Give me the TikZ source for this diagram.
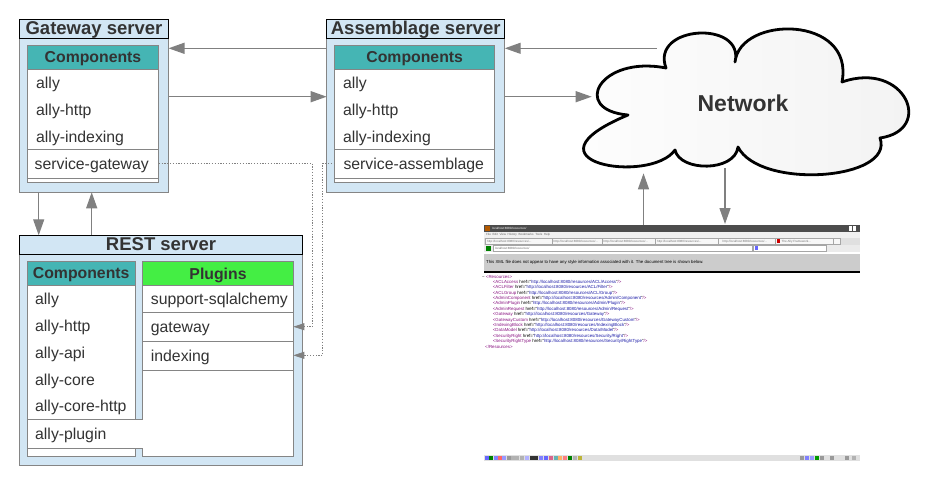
\documentclass[tikz,border=0pt]{standalone}
\usepackage{fontspec}
\setmainfont{Liberation Sans}
\usetikzlibrary{arrows.meta}
\definecolor{lb}{HTML}{D2E6F4}
\definecolor{tealh}{HTML}{45B5B4}
\definecolor{greenh}{HTML}{44EE44}
\definecolor{bord}{HTML}{858585}
\definecolor{txt}{HTML}{333333}
\definecolor{conn}{HTML}{808080}
\definecolor{xmltag}{HTML}{881280}
\definecolor{xmlval}{HTML}{1A1AA6}
\newcommand\fsz[1]{\fontsize{#1}{#1}\selectfont}
\begin{document}
\begin{tikzpicture}[x=1pt,y=-1pt,
  box/.style={draw=bord, line width=1pt, anchor=north west, inner sep=0, outer sep=0},
  outerbox/.style={box, fill=lb},
  titlebox/.style={draw=black, line width=0.9pt, fill=lb, anchor=north west, inner sep=0, outer sep=0},
  hdr/.style={box, fill=tealh},
  plug/.style={box, fill=greenh},
  listbox/.style={box, fill=white},
  ttl/.style={anchor=base, font=\bfseries\fsz{18.5}, text=txt, inner sep=0},
  hdrtxt/.style={anchor=base, font=\bfseries\fsz{15.8}, text=txt, inner sep=0},
  itm/.style={anchor=base west, font=\fsz{15.8}, text=txt, inner sep=0},
  sep/.style={draw=bord, line width=0.9pt},
  bigarrow/.style={draw=conn, line width=1.3pt, -{Triangle[length=16pt,width=11pt]}},
  dotarrow/.style={draw=conn, line width=0.8pt, dash pattern=on 1.2pt off 1.6pt, -{Triangle[length=11pt,width=7pt]}},
  xmlt/.style={anchor=west, font=\fsz{4.4}, inner sep=0},
  tiny/.style={anchor=west, font=\fsz{3}, inner sep=0},
]
\useasboundingbox (0,0) rectangle (931,480);

% ---------- Gateway server ----------
\node[outerbox, minimum width=149, minimum height=173] (gw) at (19.5,19.3) {};
\node[titlebox, minimum width=149, minimum height=19.4] (gwt) at (19.5,19.3) {};
\node[ttl] (gwtl) at (94,34.7) {Gateway server};
\node[hdr, minimum width=131.4, minimum height=24] (gwh) at (27.3,45.3) {};
\node[hdrtxt] (gwht) at (93,62.7) {Components};
\node[listbox, minimum width=131.4, minimum height=113] (gwl) at (27.3,69.3) {};
\draw[sep] (27.3,149.7) -- (158.7,149.7);
\draw[sep] (27.3,178.7) -- (158.7,178.7);
\node[itm] (g1) at (36,88.5) {ally};
\node[itm] (g2) at (36,115.8) {ally-http};
\node[itm] (g3) at (36,142.5) {ally-indexing};
\node[itm] (g4) at (34.5,169.2) {service-gateway};

% ---------- Assemblage server ----------
\node[outerbox, minimum width=178, minimum height=173] (as) at (326.7,19.3) {};
\node[titlebox, minimum width=178, minimum height=19.4] (ast) at (326.7,19.3) {};
\node[ttl] (astl) at (415.7,34.7) {Assemblage server};
\node[hdr, minimum width=160, minimum height=24] (ash) at (334.7,45.3) {};
\node[hdrtxt] (asht) at (414.7,62.7) {Components};
\node[listbox, minimum width=160, minimum height=113] (asl) at (334.7,69.3) {};
\draw[sep] (334.7,149.7) -- (494.7,149.7);
\draw[sep] (334.7,178.7) -- (494.7,178.7);
\node[itm] (a1) at (342.8,88.5) {ally};
\node[itm] (a2) at (342.8,115.8) {ally-http};
\node[itm] (a3) at (342.8,142.5) {ally-indexing};
\node[itm] (a4) at (343.3,169.2) {service-assemblage};

% ---------- REST server ----------
\node[outerbox, minimum width=283.4, minimum height=230.4] (rs) at (19.3,235.3) {};
\node[titlebox, minimum width=283.4, minimum height=19] (rst) at (19.3,235.3) {};
\node[ttl] (rstl) at (161,250.7) {REST server};
\node[hdr, minimum width=107.7, minimum height=24.3] (rch) at (27.3,261) {};
\node[hdrtxt] (rcht) at (81.2,278.7) {Components};
\node[listbox, minimum width=107.7, minimum height=171.4] (rcl) at (27.3,285.3) {};
\node[plug, minimum width=150.6, minimum height=24.3] (rph) at (142.7,261) {};
\node[hdrtxt] (rpht) at (218,279.3) {Plugins};
\node[listbox, minimum width=150.6, minimum height=171.4] (rpl) at (142.7,285.3) {};
\draw[sep] (142.7,312.3) -- (293.3,312.3);
\draw[sep] (142.7,341) -- (293.3,341);
\draw[sep] (142.7,370) -- (293.3,370);
\fill[white] (27.8,419.3) rectangle (143.3,448.3);
\draw[sep] (27.3,419.3) -- (142.7,419.3);
\draw[sep] (27.3,448.3) -- (142.7,448.3);
\node[itm] (r1) at (35,304.8) {ally};
\node[itm] (r2) at (35,331.8) {ally-http};
\node[itm] (r3) at (35,358.5) {ally-api};
\node[itm] (r4) at (35,385.1) {ally-core};
\node[itm] (r5) at (35,411.8) {ally-core-http};
\node[itm] (r6) at (35,439.1) {ally-plugin};
\node[itm] (p1) at (150.7,304.8) {support-sqlalchemy};
\node[itm] (p2) at (150.7,332.5) {gateway};
\node[itm] (p3) at (150.7,361.1) {indexing};

% ---------- Network cloud ----------
\coordinate (n1) at (666,68);
\coordinate (n2) at (735,62);
\coordinate (n3) at (842,82);
\coordinate (n4) at (880,138);
\coordinate (n5) at (738,147);
\coordinate (n6) at (675,150);
\coordinate (n7) at (628,115);
\draw[line width=2.8pt, line join=round, left color=white, right color=black!5]
  (n1) .. controls (650,25) and (745,20) .. (n2)
       .. controls (740,15) and (855,15) .. (n3)
       .. controls (905,60) and (935,130) .. (n4)
       .. controls (895,180) and (760,190) .. (n5)
       .. controls (735,172) and (680,172) .. (n6)
       .. controls (650,185) and (515,162) .. (n7)
       .. controls (570,110) and (600,55) .. cycle;
\node[anchor=base, font=\bfseries\fsz{23}, text=txt, inner sep=0] (net) at (743,111) {Network};
\coordinate (cltop) at (656.7,48.3);
\coordinate (clleft) at (591.7,96.7);
\coordinate (clbl) at (643.5,173.3);
\coordinate (clbr) at (725,168.3);

% ---------- Browser screenshot ----------
\node[anchor=north west, minimum width=376, minimum height=236, inner sep=0, outer sep=0] (shot) at (484,225) {};
\fill[black!70] (484,225) rectangle (860,232);
\fill[orange!70!black] (485,226) rectangle (490,231);
\node[tiny, text=white] (st1) at (492,228.5) {localhost:8080/resources/};
\fill[white] (849,226.3) rectangle (852,230.7);
\fill[white] (853,226.3) rectangle (856,230.7);
\fill[black!6] (484,232) rectangle (860,237.5);
\node[tiny, text=black!60] (st2) at (486,234.8) {File \ Edit \ View \ History \ Bookmarks \ Tools \ Help};
\fill[black!12] (484,237.5) rectangle (860,244.5);
\foreach \a/\b in {485/551.7, 551.7/601.7, 601.7/655, 655/718, 718/775, 775/833, 833/840}
  \draw[black!35, line width=0.3pt, fill=black!3] (\a,238.3) rectangle (\b,244.5);
\foreach \a in {487, 553.5, 603.5, 657, 722.5}
  \node[tiny, text=black!55] at (\a,241.3) {http://localhost:8080/resources/...};
\fill[red!80!black] (776.5,239.2) rectangle (780,243);
\node[tiny, text=black!55] (st3) at (781.5,241.3) {The Ally Framework...};
\fill[black!8] (484,244.5) rectangle (860,251.5);
\fill[green!50!black] (485.5,245.5) rectangle (491,250.5);
\draw[black!35, line width=0.3pt, fill=white] (493,245.3) rectangle (752,250.7);
\node[tiny, text=black!60] (st4) at (495,248) {localhost:8080/resources/};
\draw[black!35, line width=0.3pt, fill=white] (753,245.3) rectangle (826,250.7);
\fill[blue!60] (755,246) rectangle (758,250);
\fill[black!20] (484,253.7) rectangle (860,271);
\fill[black] (484,271) rectangle (860,272.6);
\node[xmlt, font=\fsz{4.3}] (msg) at (486,262.5) {This XML file does not appear to have any style information associated with it. The document tree is shown below.};
\node[xmlt] (x0) at (482,276.7) {− \textcolor{xmltag}{<Resources>}};
\node[xmlt] (x1) at (492.7,282.1) {\textcolor{xmltag}{<ACLAccess} href="\textcolor{xmlval}{http://localhost:8080/resources/ACL/Access}"\textcolor{xmltag}{/>}};
\node[xmlt] (x2) at (492.7,287.5) {\textcolor{xmltag}{<ACLFilter} href="\textcolor{xmlval}{http://localhost:8080/resources/ACL/Filter}"\textcolor{xmltag}{/>}};
\node[xmlt] (x3) at (492.7,292.9) {\textcolor{xmltag}{<ACLGroup} href="\textcolor{xmlval}{http://localhost:8080/resources/ACL/Group}"\textcolor{xmltag}{/>}};
\node[xmlt] (x4) at (492.7,298.3) {\textcolor{xmltag}{<AdminComponent} href="\textcolor{xmlval}{http://localhost:8080/resources/Admin/Component}"\textcolor{xmltag}{/>}};
\node[xmlt] (x5) at (492.7,303.7) {\textcolor{xmltag}{<AdminPlugin} href="\textcolor{xmlval}{http://localhost:8080/resources/Admin/Plugin}"\textcolor{xmltag}{/>}};
\node[xmlt] (x6) at (492.7,309.1) {\textcolor{xmltag}{<AdminRequest} href="\textcolor{xmlval}{http://localhost:8080/resources/Admin/Request}"\textcolor{xmltag}{/>}};
\node[xmlt] (x7) at (492.7,314.5) {\textcolor{xmltag}{<Gateway} href="\textcolor{xmlval}{http://localhost:8080/resources/Gateway}"\textcolor{xmltag}{/>}};
\node[xmlt] (x8) at (492.7,319.9) {\textcolor{xmltag}{<GatewayCustom} href="\textcolor{xmlval}{http://localhost:8080/resources/GatewayCustom}"\textcolor{xmltag}{/>}};
\node[xmlt] (x9) at (492.7,325.3) {\textcolor{xmltag}{<IndexingBlock} href="\textcolor{xmlval}{http://localhost:8080/resources/IndexingBlock}"\textcolor{xmltag}{/>}};
\node[xmlt] (x10) at (492.7,330.7) {\textcolor{xmltag}{<DataModel} href="\textcolor{xmlval}{http://localhost:8080/resources/Data/Model}"\textcolor{xmltag}{/>}};
\node[xmlt] (x11) at (492.7,336.1) {\textcolor{xmltag}{<SecurityRight} href="\textcolor{xmlval}{http://localhost:8080/resources/Security/Right}"\textcolor{xmltag}{/>}};
\node[xmlt] (x12) at (492.7,341.5) {\textcolor{xmltag}{<SecurityRightType} href="\textcolor{xmlval}{http://localhost:8080/resources/Security/RightType}"\textcolor{xmltag}{/>}};
\node[xmlt] (x13) at (485,347) {\textcolor{xmltag}{</Resources>}};
\fill[black!12] (484,455) rectangle (860,461);
\foreach \a/\c in {485/blue!60, 489/green!50!black, 494/blue!50, 498/red!60, 502/blue!40, 507/black!40, 511/black!30, 515/black!30, 520/black!30, 525/blue!30, 530/black!80, 534/black!80, 539/blue!50, 544/blue!60, 549/purple!60, 554/teal!60, 558/orange!60, 563/red!50, 568/green!50!black, 573/black!30, 578/yellow!70!black,
  800/black!40, 805/blue!50, 810/blue!40, 815/green!60!black, 820/black!40, 830/black!40, 845/black!40, 852/black!30}
  \fill[\c] (\a,456) rectangle ++(3.5,4);

% ---------- Connectors ----------
\coordinate (y48) at (0,48.3);
\coordinate (y97) at (0,96.7);
\coordinate (x38) at (38.7,0);
\coordinate (x92) at (91.7,0);
\coordinate (sgy) at (0,163.3);
\coordinate (pgy) at (0,326.7);
\coordinate (piy) at (0,355.3);
\coordinate (dx1) at (312.5,0);
\coordinate (dx2) at (322.7,0);
\draw[bigarrow] (as.west |- y48) -- (gw.east |- y48);
\draw[bigarrow] (gw.east |- y97) -- (as.west |- y97);
\draw[bigarrow] (cltop) -- (as.east |- y48);
\draw[bigarrow] (as.east |- y97) -- (clleft);
\draw[bigarrow] (gw.south -| x38) -- (rs.north -| x38);
\draw[bigarrow] (rs.north -| x92) -- (gw.south -| x92);
\draw[bigarrow] (shot.north -| clbl) -- (clbl);
\draw[bigarrow] (clbr) -- ([yshift=1pt]shot.north -| clbr);
\draw[dotarrow] (gwl.east |- sgy) -- (dx1 |- sgy) -- (dx1 |- pgy) -- (rpl.east |- pgy);
\draw[dotarrow] (asl.west |- sgy) -- (dx2 |- sgy) -- (dx2 |- piy) -- (rpl.east |- piy);
\end{tikzpicture}
\end{document}
